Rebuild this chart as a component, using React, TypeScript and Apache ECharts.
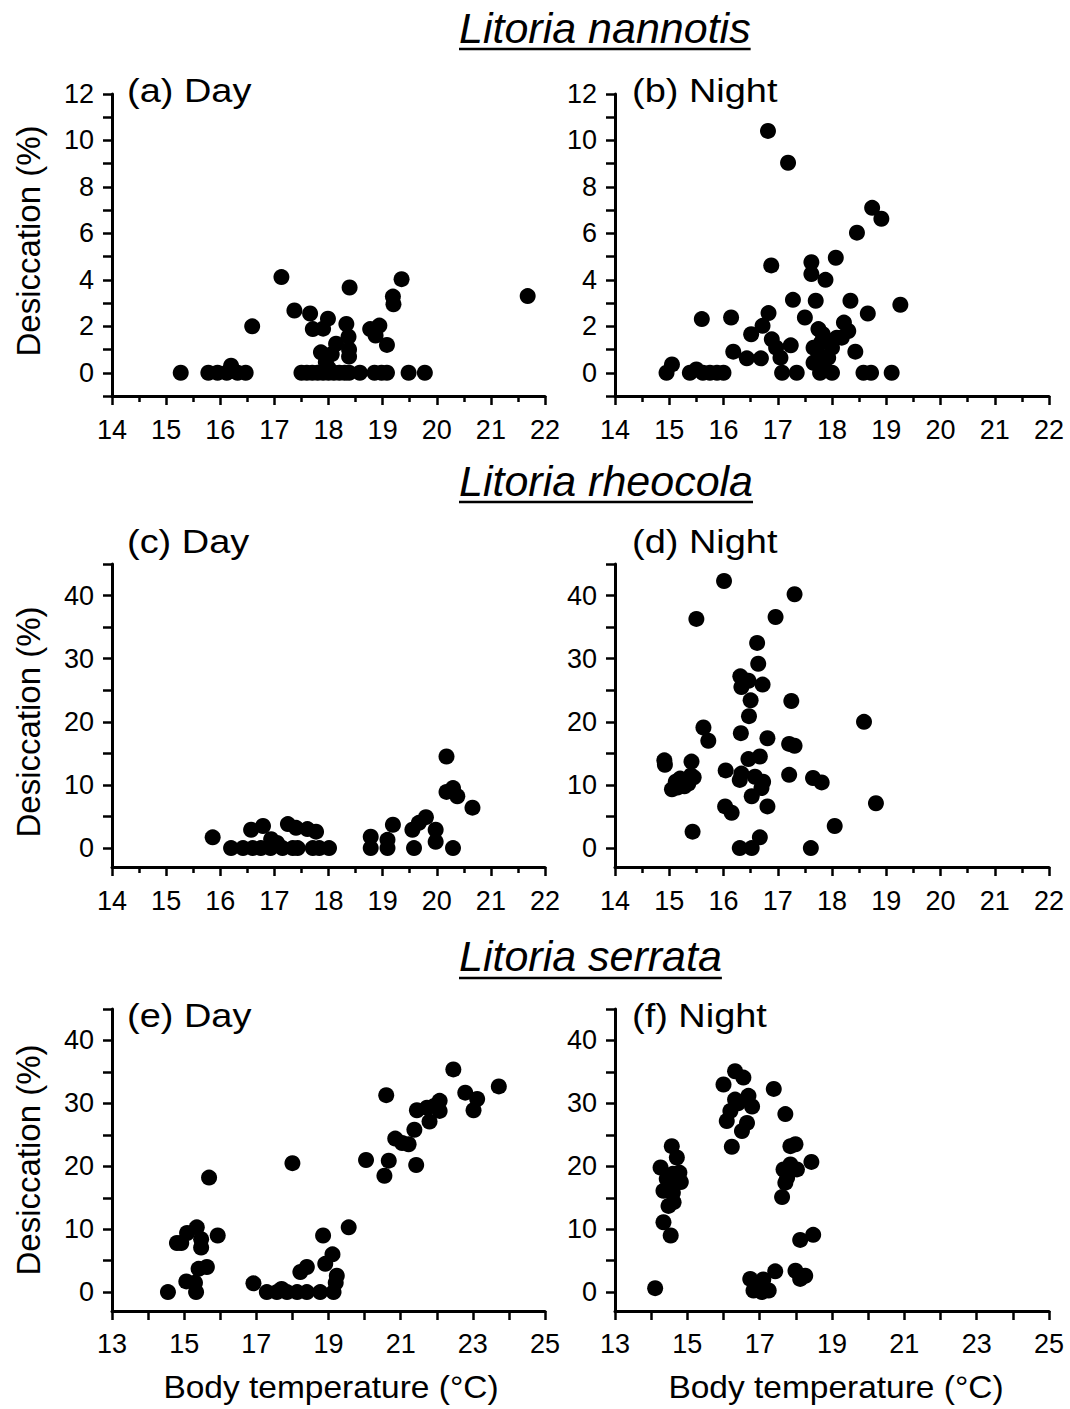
import React, { useEffect, useRef } from "react";
import * as echarts from "echarts";

// ---------- Data ----------
const titles = ["Litoria nannotis", "Litoria rheocola", "Litoria serrata"];
const panelLabels = ["(a) Day", "(b) Night", "(c) Day", "(d) Night", "(e) Day", "(f) Night"];
const yAxisTitle = "Desiccation (%)";
const xAxisTitle = "Body temperature (°C)";

// (a) L. nannotis, day
const aX = [15.27, 15.78, 15.95, 16.12, 16.2, 16.32, 16.47, 16.59, 17.13, 17.37, 17.66, 17.71, 17.9, 17.99, 18.33, 18.39, 18.37, 18.38, 18.38, 18.14, 18.06, 17.86, 17.95, 18.0, 18.77, 18.94, 18.87, 19.08, 19.19, 19.2, 19.35, 21.68,
  17.5, 17.6, 17.7, 17.8, 17.9, 18.0, 18.1, 18.2, 18.3, 18.38, 18.58, 18.85, 18.98, 19.08, 19.48, 19.78];
const aY = [0, 0, 0, 0, 0.3, 0, 0, 2.0, 4.12, 2.68, 2.55, 1.88, 1.9, 2.33, 2.1, 3.67, 1.55, 1.0, 0.7, 1.25, 0.8, 0.88, 0.45, 0.2, 1.88, 2.03, 1.6, 1.2, 3.28, 2.95, 4.03, 3.3,
  0, 0, 0, 0, 0, 0, 0, 0, 0, 0, 0, 0, 0, 0, 0, 0];

// (b) L. nannotis, night
const bX = [16.82, 17.19, 18.74, 18.91, 18.46, 16.88, 17.62, 17.62, 17.88, 18.07, 17.28, 17.7, 18.34, 19.26, 15.6, 16.14, 16.83, 17.5, 18.66, 16.72, 16.51, 16.89, 16.18, 16.43, 16.69, 16.97, 17.05, 17.08, 17.24, 17.35, 18.22, 18.3, 18.18, 18.43, 17.75, 17.83, 17.66, 17.75, 17.66, 17.94, 18.0, 18.09, 17.93, 17.78, 18.0, 18.58, 18.72, 19.1, 14.95, 15.05, 15.38, 15.5, 15.62, 15.75, 15.88, 16.0, 17.85, 17.8];
const bY = [10.41, 9.04, 7.1, 6.63, 6.03, 4.62, 4.76, 4.25, 4.0, 4.95, 3.14, 3.1, 3.1, 2.93, 2.31, 2.38, 2.57, 2.38, 2.55, 2.02, 1.66, 1.44, 0.91, 0.62, 0.62, 1.08, 0.65, 0, 1.18, 0, 2.16, 1.8, 1.51, 0.91, 1.88, 1.66, 1.08, 0.79, 0.43, 1.37, 1.08, 1.51, 0.65, 0, 0, 0, 0, 0, 0, 0.36, 0, 0.14, 0, 0, 0, 0, 0.3, 1.3];

// (c) L. rheocola, day
const cX = [15.86, 16.2, 16.42, 16.6, 16.75, 16.93, 17.15, 17.34, 17.43, 17.71, 17.83, 18.01, 16.57, 16.79, 17.25, 17.4, 17.61, 17.77, 16.94, 17.05, 18.78, 18.78, 19.09, 19.09, 19.19, 19.55, 19.67, 19.8, 19.58, 19.98, 19.98, 20.3, 20.18, 20.18, 20.3, 20.38, 20.66];
const cY = [1.7, 0, 0, 0, 0, 0, 0, 0, 0, 0, 0, 0, 2.9, 3.5, 3.8, 3.2, 3.0, 2.6, 1.4, 0.8, 1.8, 0, 1.3, 0, 3.7, 2.9, 4.0, 4.9, 0, 2.9, 1.0, 0, 14.5, 8.9, 9.5, 8.2, 6.4];

// (d) L. rheocola, night
const dX = [16.01, 17.31, 15.5, 16.96, 16.62, 16.64, 16.31, 16.33, 16.46, 16.72, 16.5, 17.25, 16.47, 18.59, 15.63, 15.72, 16.32, 16.81, 17.21, 17.31, 14.91, 14.92, 15.41, 16.46, 16.67, 16.04, 16.33, 16.3, 16.58, 16.73, 16.7, 16.52, 17.21, 17.65, 17.81, 18.81, 18.05, 16.03, 16.15, 16.81, 16.67, 15.43, 16.3, 16.52, 17.61, 15.05, 15.12, 15.2, 15.28, 15.35, 15.45, 15.15, 15.4];
const dY = [42.3, 40.2, 36.3, 36.6, 32.5, 29.2, 27.2, 25.5, 26.5, 25.9, 23.4, 23.3, 20.9, 20.0, 19.1, 17.0, 18.2, 17.4, 16.5, 16.2, 13.9, 13.2, 13.7, 14.1, 14.5, 12.3, 11.8, 10.8, 11.3, 10.5, 9.5, 8.2, 11.6, 11.1, 10.4, 7.1, 3.5, 6.6, 5.6, 6.6, 1.7, 2.6, 0, 0, 0, 9.3, 10.5, 11.0, 9.8, 10.2, 11.2, 9.6, 11.5];

// (e) L. serrata, day
const eX = [14.55, 15.06, 15.33, 15.3, 15.4, 15.63, 14.8, 14.92, 15.08, 15.35, 15.47, 15.47, 15.93, 15.69, 18.0, 16.92, 17.29, 17.57, 17.85, 18.13, 18.4, 18.77, 19.14, 17.7, 18.22, 18.4, 18.91, 19.11, 19.23, 19.2, 18.85, 19.56, 20.04, 20.67, 20.55, 21.43, 20.6, 20.85, 21.04, 21.22, 21.38, 21.8, 21.45, 21.73, 21.93, 22.08, 22.08, 22.79, 23.12, 23.02, 23.72, 22.46];
const eY = [0, 1.7, 0, 1.5, 3.7, 4.0, 7.8, 7.8, 9.4, 10.3, 8.4, 7.1, 9.0, 18.2, 20.5, 1.4, 0, 0, 0, 0, 0, 0, 0, 0.5, 3.2, 4.0, 4.5, 6.0, 2.6, 1.5, 9.0, 10.3, 21.0, 20.9, 18.5, 20.2, 31.3, 24.4, 23.7, 23.5, 25.8, 27.1, 28.9, 29.3, 29.6, 30.4, 28.8, 31.7, 30.7, 28.9, 32.7, 35.4];

// (f) L. serrata, night
const fX = [14.11, 14.57, 14.71, 14.26, 14.78, 14.6, 14.82, 14.43, 14.34, 14.6, 14.48, 14.62, 14.34, 14.54, 14.52, 16.32, 16.55, 16.0, 16.32, 16.69, 16.79, 16.19, 16.09, 16.65, 16.51, 16.23, 16.4, 17.39, 17.71, 17.85, 17.99, 17.66, 17.85, 18.03, 17.76, 17.71, 17.62, 18.43, 18.12, 18.48, 16.74, 16.92, 17.1, 16.83, 17.06, 17.25, 17.43, 17.99, 18.12, 18.26];
const fY = [0.63, 23.2, 21.4, 19.8, 19.0, 18.8, 17.5, 18.0, 16.1, 15.8, 13.7, 14.3, 11.1, 9.0, 16.9, 35.1, 34.1, 33.0, 30.6, 31.2, 29.5, 28.8, 27.2, 26.9, 25.6, 23.1, 30.0, 32.3, 28.3, 23.2, 23.5, 19.5, 20.3, 19.5, 18.2, 17.4, 15.1, 20.7, 8.3, 9.1, 2.1, 1.3, 2.0, 0.26, 0, 0.26, 3.3, 3.4, 2.1, 2.6];

const xTicksTop = { min: 14, max: 22 };
const xTicksBottom = { min: 13, max: 25 };
const yTicksRow1 = { min: -1, max: 12 };
const yTicksRows23 = { min: -3, max: 45 };
const yLabelValues = [0, 10, 20, 30, 40];
const yTickValues = [0, 5, 10, 15, 20, 25, 30, 35, 40, 45];

const panels = [
  { x: aX, y: aY }, { x: bX, y: bY },
  { x: cX, y: cY }, { x: dX, y: dY },
  { x: eX, y: eY }, { x: fX, y: fY },
];

// ---------- Layout ----------
const FONT = "Liberation Sans";
const ROWS = [
  { top: 94, height: 302 },
  { top: 564, height: 303 },
  { top: 1009, height: 302 },
];
const COLS = [
  { left: 112, width: 433 },
  { left: 615, width: 434 },
];

function measure(text: string, font: string): number {
  const c = document.createElement("canvas");
  const ctx = c.getContext("2d");
  if (!ctx) return text.length * 20;
  ctx.font = font;
  return ctx.measureText(text).width;
}

export default function App() {
  const ref = useRef<HTMLDivElement>(null);

  useEffect(() => {
    document.body.style.margin = "0";
    if (!ref.current) return;
    const chart = echarts.init(ref.current, undefined, { renderer: "svg" });

    const axisLine = { show: true, onZero: false, lineStyle: { color: "#000", width: 3 } };
    const tickStyle = { color: "#000", width: 2.5 };
    const labelStyle = { color: "#000", fontSize: 27, fontFamily: FONT };

    const grids: any[] = [];
    const xAxes: any[] = [];
    const yAxes: any[] = [];
    const series: any[] = [];

    panels.forEach((p, i) => {
      const r = Math.floor(i / 2);
      const c = i % 2;
      grids.push({
        left: COLS[c].left,
        width: COLS[c].width,
        top: ROWS[r].top,
        height: ROWS[r].height,
        containLabel: false,
        outerBoundsMode: "none",
      });
      if (r < 2) {
        xAxes.push({
          type: "value", gridIndex: i, min: xTicksTop.min, max: xTicksTop.max, interval: 1,
          axisLine, splitLine: { show: false },
          axisTick: { show: true, length: 9, lineStyle: tickStyle },
          minorTick: { show: true, splitNumber: 2, length: 6, lineStyle: tickStyle },
          minorSplitLine: { show: false },
          axisLabel: { ...labelStyle, margin: 20 },
        });
      } else {
        xAxes.push({
          type: "value", gridIndex: i, min: xTicksBottom.min, max: xTicksBottom.max, interval: 1,
          axisLine, splitLine: { show: false },
          axisTick: { show: true, length: 9, lineStyle: tickStyle },
          axisLabel: { ...labelStyle, margin: 19, formatter: (v: number) => (Math.abs(v % 2) === 1 ? String(v) : "") },
        });
      }
      if (r === 0) {
        yAxes.push({
          type: "value", gridIndex: i, min: yTicksRow1.min, max: yTicksRow1.max, interval: 1,
          axisLine, splitLine: { show: false },
          axisTick: { show: true, length: 9, lineStyle: tickStyle },
          axisLabel: { ...labelStyle, margin: 18, formatter: (v: number) => (v >= 0 && v % 2 === 0 ? String(v) : "") },
        });
      } else {
        yAxes.push({
          type: "value", gridIndex: i, min: yTicksRows23.min, max: yTicksRows23.max,
          axisLine, splitLine: { show: false },
          axisTick: { show: true, length: 9, lineStyle: tickStyle, customValues: yTickValues },
          axisLabel: { ...labelStyle, margin: 18, customValues: yLabelValues },
        });
      }
      series.push({
        type: "scatter",
        xAxisIndex: i,
        yAxisIndex: i,
        symbol: "circle",
        symbolSize: 16,
        itemStyle: { color: "#000", opacity: 1 },
        data: p.x.map((xv, k) => [xv, p.y[k]]),
      });
    });

    const graphic: any[] = [];
    const titleFont = `italic 43px "${FONT}"`;
    const titleBase = [43, 496, 971];
    const underlineY = [49, 502, 978];
    titles.forEach((t, r) => {
      const w = measure(t, titleFont);
      graphic.push({
        type: "text", x: 459, y: titleBase[r] - 15,
        style: { text: t, fontSize: 43, fontStyle: "italic", fontFamily: FONT, fill: "#000", align: "left", verticalAlign: "middle" },
      });
      graphic.push({
        type: "line", shape: { x1: 459, y1: underlineY[r], x2: 459 + w, y2: underlineY[r] },
        style: { stroke: "#000", lineWidth: 2.5 },
      });
    });

    const labelY = [91, 542, 1016];
    panelLabels.forEach((t, i) => {
      const r = Math.floor(i / 2);
      const c = i % 2;
      graphic.push({
        type: "text", x: c === 0 ? 127 : 632, y: labelY[r], scaleX: 1.15,
        style: { text: t, fontSize: 33, fontFamily: FONT, fill: "#000", align: "left", verticalAlign: "middle" },
      });
    });

    const yTitleCenters = [241, 722, 1160];
    yTitleCenters.forEach((cy) => {
      graphic.push({
        type: "text", x: 28, y: cy, rotation: Math.PI / 2,
        style: { text: yAxisTitle, fontSize: 33, fontFamily: FONT, fill: "#000", align: "center", verticalAlign: "middle" },
      });
    });

    [331, 836].forEach((cx) => {
      graphic.push({
        type: "text", x: cx, y: 1387, scaleX: 1.08,
        style: { text: xAxisTitle, fontSize: 31, fontFamily: FONT, fill: "#000", align: "center", verticalAlign: "middle" },
      });
    });

    chart.setOption({
      animation: false,
      backgroundColor: "#fff",
      grid: grids,
      xAxis: xAxes,
      yAxis: yAxes,
      series,
      graphic,
    });

    return () => chart.dispose();
  }, []);

  return <div ref={ref} style={{ width: 1070, height: 1409 }} />;
}
